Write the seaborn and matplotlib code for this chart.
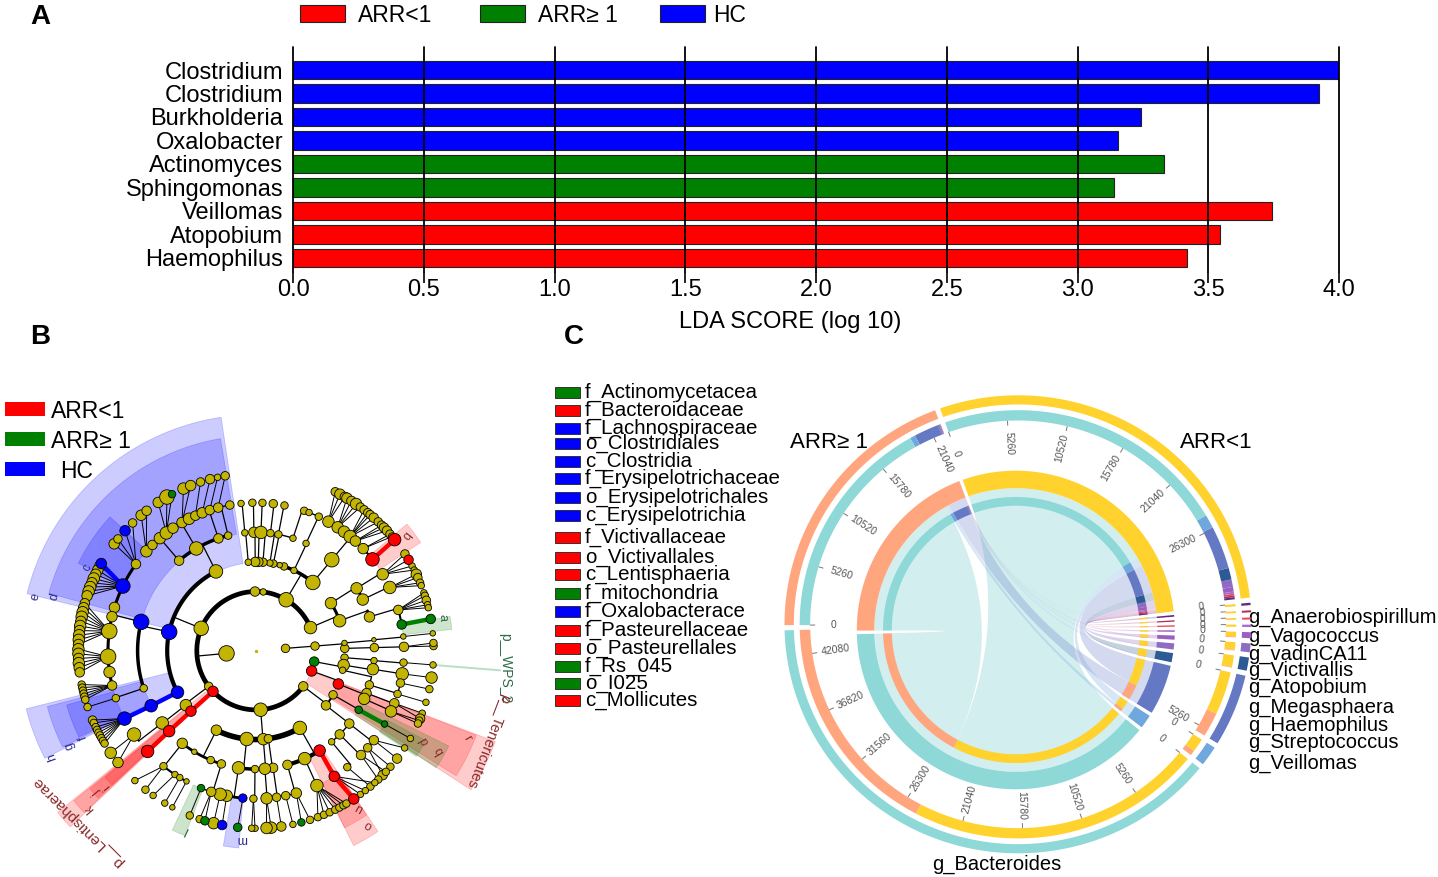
import numpy as np
import pandas as pd
import matplotlib
matplotlib.use('Agg')
import matplotlib.pyplot as plt
from matplotlib.patches import Rectangle, Polygon
import seaborn as sns

# ---------- panel A data ----------
lda_taxa = ['Clostridium', 'Clostridium', 'Burkholderia', 'Oxalobacter', 'Actinomyces',
            'Sphingomonas', 'Veillomas', 'Atopobium', 'Haemophilus']
lda_score = [4.0, 3.925, 3.243, 3.155, 3.33, 3.14, 3.745, 3.545, 3.42]
lda_group = ['HC', 'HC', 'HC', 'HC', 'ARR>=1', 'ARR>=1', 'ARR<1', 'ARR<1', 'ARR<1']
group_colors = {'ARR<1': '#ff0000', 'ARR>=1': '#008000', 'HC': '#0000ff', 'none': '#c2b400'}

# ---------- panel B data: (parent angle, arc width, child angles, child diameters) ----------
clades_1 = [(None, 0, [185.2, 4.5], [14, 7])]
clades_2 = [(185.2, 3.4, [23, 59.4, 83, 91, 157.8, 217, 223.4, 274.5, 323], [11, 13, 5, 8, 13, 7, 9, 12, 8]),
            (4.5, 1, [4.5], 7),
            (None, 0, [349.4, 340], [8, 9])]
clades_3 = [(157.8, 3, [116.8, 167.8, 207.9], [12, 14, 11]),
            (59.4, 2.6, [50.2, 64.7, 71.6, 74.5, 78.7, 81, 85.5, 88.5, 90.5, 95], [13, 5, 6, 4, 6, 5, 7, 8, 8, 5]),
            (23, 2.2, [19.7, 32.4], [11, 10]),
            (4.5, 1, [1.5, 5], [7, 4]),
            (349.4, 1, [355.5, 350.7, 347.3], [6, 10, 5]),
            (340, 1, [338], 9),
            (323, 1.5, [330.2, 322], [7, 8]),
            (274.5, 4, [243.5, 264, 274.7, 278, 299.6], [9, 12, 10, 7, 12]),
            (223.4, 1, [222.9], 9),
            (217, 1, [217.8], 10)]
clades_4 = [(116.8, 2.5, [103.6, 108.5, 120.3, 130.5], [6, 8, 12, 8]),
            (167.8, 2.5, [165.9, 198.5], [14, 6]),
            (207.9, 1, [207.7], 11),
            (222.9, 1, [222.8], 10),
            (217.8, 1, [217.6], 11),
            (50.2, 1, [50.2], 13),
            (95, 1, [95.4], 5), (90.5, 1, [91], 9), (88.5, 1, [87.6], 11), (85.5, 1, [83], 6),
            (81, 1, [79.1], 6), (78.7, 1, [71.8], 5), (64.7, 1, [65], 5),
            (19.7, 2, [16.6], 9),
            (32.4, 2, [31.8, 25.6], 10),
            (1.5, 1, [1.5], 7), (5, 1, [5.3], 3),
            (355.5, 1, [355.2], 5), (350.7, 1, [351], 10), (347.3, 1, [343.2], 7),
            (338, 1, [339, 336], [8, 10]),
            (330.2, 1, [330.1], 6),
            (322, 1, [322, 315, 309.7], [8, 8, 5]),
            (299.6, 3, [302.5, 294.3, 285.4], [10, 11, 8]),
            (278, 1, [278.3], 8), (274.7, 1, [274.3], 10),
            (264, 2.5, [269.5, 261.5], [6, 11]),
            (243.5, 2, [231.5, 238.6, 247.5, 253], [9, 4, 6, 7])]
clades_5 = [(130.5, 1.5, [137.8, 134.4, 130.5, 127.3, 124.1], [9, 7, 9, 10, 8]),
            (120.3, 1.5, [120, 116.9, 114.2, 111.3], [8, 9, 7, 8]),
            (108.5, 1.2, [108.2, 104.8], [7, 7]),
            (103.6, 1, [100.2], 6),
            (165.9, 2.2, [144.2, 154.1, 163, 166.7, 172.4, 182.3, 188.3, 193.6], [7, 12, 8, 8, 13, 13, 9, 7]),
            (198.5, 1, [198.7], 5),
            (207.7, 1, [207.3], 11), (222.8, 1, [222.9], 10), (217.6, 1, [214.5], 11),
            (50.2, 1.5, [60.7, 56.5, 53.5, 50.5, 47.8, 43.6, 38.1], [9, 9, 9, 10, 8, 8, 11]),
            (31.8, 1, [31.1], 9), (25.6, 1, [25.3], 10),
            (16.6, 1.5, [16, 10.2], [7, 7]),
            (1.5, 1, [1.5], 7), (5.3, 1, [5.5], 3),
            (95.4, 1, [95.8], 4), (91, 1, [91.4], 5), (87.6, 1, [87.5], 5), (83, 1, [83.3], 6),
            (79.1, 1, [78.9], 5), (71.8, 1, [71], 5), (65, 1, [64.9, 69], [5, 4]),
            (355.2, 1, [355.4], 5), (351, 1, [351], 10), (343.2, 1, [347.4, 343], [6, 5]),
            (339, 1, [339.2], 7), (336, 1, [335.8], 9), (330.1, 1, [330.3], 4),
            (322, 1, [322.8, 319], [7, 6]), (315, 1, [315.2], 7), (309.7, 1, [308.1], 5),
            (302.5, 1, [301.9], 8), (294.3, 1, [294.3], 10), (285.4, 1, [285.8, 281.6], [8, 6]),
            (278.3, 1, [278], 6), (274.3, 1, [274.1], 9), (269.5, 1, [269], 5),
            (261.5, 2, [264.9, 258.6, 256, 252.4], [6, 9, 10, 7]),
            (253, 1, [248.2], 5),
            (231.5, 1.5, [231.3, 236.8, 239, 242], [5, 4, 4, 3])]
clades_6 = [(137.8, 0, [130.3, 128], [8, 7]), (127.3, 0, [123.4, 120.1, 118.2], [8, 12, 5]),
            (120, 0, [114.1, 111.6], [9, 8]), (114.2, 0, [108.2], 6), (111.3, 0, [105], 7),
            (108.2, 0, [102.5], 4), (104.8, 0, [100], 6),
            (144.2, 0, [143, 141, 137.5, 134], [8, 6, 8, 6]),
            (154.1, 0, [150.6, 151.5, 153, 154.5, 156, 157.5, 159, 160.5, 162], [8, 8, 8, 8, 9, 8, 9, 9, 8]),
            (172.4, 0, [164.5, 166, 167.5, 169, 170.5, 172, 173.5, 175, 176.5, 178], [7, 8, 9, 9, 8, 9, 8, 9, 9, 8]),
            (182.3, 0, [179.5, 181, 182.5, 184, 185.5, 187], [9, 9, 8, 9, 8, 7]),
            (193.6, 0, [191, 192, 193, 194, 195, 196], 5),
            (198.7, 0, [198.5], 5),
            (207.3, 0, [203, 204, 205.5, 206.5, 207.5, 208.5, 209.5, 210.5, 211.5], [6, 5, 5, 5, 5, 5, 5, 5, 5]),
            (214.5, 0, [215.1, 219], [9, 8]),
            (60.7, 0, [63.5, 61.8, 60], [6, 8, 7]), (56.5, 0, [59.2, 57.5, 55.7, 54], [8, 7, 9, 6]),
            (50.5, 0, [52.5, 51, 50, 48.5, 46.5], [6, 6, 6, 7, 6]),
            (47.8, 0, [45, 43.9, 42.5], [6, 7, 7]), (43.6, 0, [41, 40], [6, 5]), (38.1, 0, [38.7], 10),
            (31.1, 0, [33, 30.8, 28.5, 27], [6, 7, 4, 4]), (25.3, 0, [25.5, 24.3, 22.5, 21.5], [8, 6, 5, 4]),
            (16, 0, [19, 18, 16.5, 15, 14], [4, 5, 6, 4, 4]), (10.2, 0, [10.3], 7),
            (1.5, 0, [1.5, 2.5], 5), (5.5, 0, [5.6], 3),
            (355.4, 0, [355.4], 4), (351, 0, [351.3], 9), (347.4, 0, [347.5], 5), (343, 0, [343.1], 4),
            (339.2, 0, [339.4, 337.5], [4, 7]), (335.8, 0, [336.8, 335.8], [5, 5]),
            (330.3, 0, [330.4], 4), (322.8, 0, [322.6, 326.8], [7, 4]), (319, 0, [319.2, 315.5], [5, 7]),
            (315.2, 0, [317, 313.5], [5, 5]), (308.1, 0, [310.1], 5),
            (301.9, 0, [303.4, 306, 308, 312], [8, 4, 4, 4]),
            (294.3, 0, [290.4, 292.5, 294.5, 296.5, 298, 299.5, 300.6], 5),
            (285.8, 0, [284.8, 287.7], [5, 5]), (281.6, 0, [282], 4), (278, 0, [278.2], 7),
            (274.1, 0, [274.9, 273.4], 9), (269, 0, [269.7, 268.6], 4), (264.9, 0, [264.1], 6),
            (258.6, 0, [259], 7), (256, 0, [256.2], 9), (252.4, 0, [253.3, 251.5], [6, 5]),
            (248.2, 0, [248.1], 5), (231.3, 0, [227, 231.5], [4, 5]), (236.8, 0, [234.6], 4),
            (239, 0, [239.1], 4), (242, 0, [241.9], 3)]
all_clades = [clades_1, clades_2, clades_3, clades_4, clades_5, clades_6]

blue_nodes = [(3, 167.8), (3, 207.9), (4, 165.9), (4, 207.7), (5, 154.1), (5, 207.3), (5, 264.9),
              (6, 150.6), (6, 137.5), (6, 259)]
red_nodes = [(2, 340), (2, 223.4), (3, 338), (3, 222.9), (4, 222.8), (4, 302.5), (5, 222.9), (5, 301.9),
             (5, 38.1), (6, 303.4), (6, 38.7), (6, 30.8)]
green_nodes = [(2, 349.4), (4, 330.1), (5, 330.3), (5, 10.2), (6, 10.3), (6, 118.2), (6, 284.8),
               (6, 264.1), (6, 253.3), (5, 248.2)]
plain_links = [167.8, 340]

# highlighted sectors: start angle, end angle, inner radius, outer radius
wedges_blue = [(98.5, 166, 88, 236), (99.5, 164.5, 118, 215), (137.5, 153.8, 148, 198),
               (194.2, 207, 90, 237), (195, 206.5, 118, 216), (196, 206, 148, 197), (260.5, 265, 148, 198)]
wedges_red = [(219.2, 223.5, 59, 256), (219.5, 223.3, 88, 236), (219.8, 223, 118, 216), (220, 223, 148, 197),
              (327.1, 339.2, 59, 256), (328, 339, 88, 236), (304, 296.6, 118, 218), (304, 296.6, 148, 198),
              (33.3, 40, 148, 197)]
wedges_green = [(327, 333.7, 118, 215), (326.6, 332.1, 148, 192), (6.2, 10, 148, 197), (245, 249, 148, 198)]

small_labels = ['a', 'b', 'c', 'd', 'e', 'f', 'g', 'h', 'i', 'j', 'k', 'l', 'm', 'n', 'o', 'p', 'q', 'r']
# ---------- legends and names ----------
biomarkers = ['f_Actinomycetacea', 'f_Bacteroidaceae', 'f_Lachnospiraceae', 'o_Clostridiales', 'c_Clostridia',
              'f_Erysipelotrichaceae', 'o_Erysipelotrichales', 'c_Erysipelotrichia', 'f_Victivallaceae',
              'o_Victivallales', 'c_Lentisphaeria', 'f_mitochondria', 'f_Oxalobacterace', 'f_Pasteurellaceae',
              'o_Pasteurellales', 'f_Rs_045', 'o_I025', 'c_Mollicutes']
biomarker_group = ['ARR>=1', 'ARR<1', 'HC', 'HC', 'HC', 'HC', 'HC', 'HC', 'ARR<1', 'ARR<1', 'ARR<1', 'ARR>=1',
                   'HC', 'ARR<1', 'ARR<1', 'ARR>=1', 'ARR>=1', 'ARR<1']

# ---------- panel C data: sequence counts, genus by group ----------
genera = ['g_Anaerobiospirillum', 'g_Vagococcus', 'g_vadinCA11', 'g_Victivallis', 'g_Atopobium',
          'g_Megasphaera', 'g_Haemophilus', 'g_Streptococcus', 'g_Veillomas', 'g_Bacteroides']
reads_arr_lt = [180, 150, 150, 180, 400, 650, 1000, 3700, 1150, 25000]
reads_arr_ge = [10, 10, 10, 10, 80, 60, 60, 2100, 450, 19200]
genus_colors = ['#5b2c83', '#b0305a', '#e8445a', '#a66fc9', '#9b5fc0', '#8f6cc4', '#2b5a94', '#6478c4',
                '#6fa8dc', '#8ed8d8']
yellow, peach = '#ffd22e', '#ffa67e'
tick_step = 5260
last_tick = {'ARR<1': 26300}

sns.set_theme(style='white')
plt.rcParams['font.family'] = ['Liberation Sans', 'DejaVu Sans']

fig = plt.figure(figsize=(14.38, 8.77), dpi=100)

# whole-figure axes in picture pixels, for the two circular panels
ax = fig.add_axes([0, 0, 1, 1])
ax.set_xlim(0, 1438)
ax.set_ylim(877, 0)
ax.axis('off')

# ---------- panel A ----------
ax_a = fig.add_axes([293 / 1438, 1 - 272 / 877, 1046 / 1438, 225 / 877])
lda = pd.DataFrame({'pos': [str(i) for i in range(len(lda_taxa))], 'score': lda_score, 'group': lda_group})
sns.barplot(data=lda, x='score', y='pos', hue='group', palette=group_colors, dodge=False, legend=False,
            width=0.8, saturation=1, edgecolor='#222222', linewidth=0.8, ax=ax_a)
ax_a.set_xlim(0, 4)
ax_a.set_ylim(8.6, -0.98)
ax_a.set_xticks(np.arange(0, 4.5, 0.5))
ax_a.set_xticklabels([f'{v:.1f}' for v in np.arange(0, 4.5, 0.5)], fontsize=17, color='black')
ax_a.set_yticks(range(len(lda_taxa)))
ax_a.set_yticklabels(lda_taxa, fontsize=17, color='black')
ax_a.tick_params(axis='y', length=0, pad=7)
ax_a.tick_params(axis='x', length=8, width=1.2, color='black', pad=-3, bottom=True)
ax_a.grid(axis='x', color='black', linewidth=1.3)
for line in ax_a.get_xgridlines():
    line.set_clip_on(False)
ax_a.set_axisbelow(False)
ax_a.set_xlabel('')
ax_a.set_ylabel('')
for sp in ax_a.spines.values():
    sp.set_visible(False)
ax_a.patch.set_alpha(0)

# top legend
for x0, name, txt, tx in [(300, 'ARR<1', 'ARR<1', 358), (480, 'ARR>=1', 'ARR≥ 1', 538), (660, 'HC', 'HC', 713)]:
    ax.add_patch(Rectangle((x0, 5), 45, 17, facecolor=group_colors[name], edgecolor='#222222', linewidth=0.8))
    ax.text(tx, 15, txt, fontsize=16.5, va='center', color='black')

for txt, x, y in [('A', 40, 17), ('B', 40, 337), ('C', 574, 337)]:
    ax.text(x, y, txt, fontsize=20, fontweight='bold', ha='center', va='center', color='black')
ax.text(790, 322, 'LDA SCORE (log 10)', fontsize=17, ha='center', va='center', color='black')

# ---------- panel B ----------
cx_b, cy_b, ring = 256, 650.7, 29.6


def clad_xy(angle, radius):
    a = np.deg2rad(angle)
    return cx_b + radius * np.cos(a), cy_b - radius * np.sin(a)


for wedges, name in [(wedges_blue, 'HC'), (wedges_red, 'ARR<1'), (wedges_green, 'ARR>=1')]:
    for a0, a1, r0, r1 in wedges:
        th = np.linspace(a0, a1, 40)
        xo, yo = clad_xy(th, r1)
        xi, yi = clad_xy(th[::-1], r0)
        ax.add_patch(Polygon(np.c_[np.r_[xo, xi], np.r_[yo, yi]], closed=True, facecolor=group_colors[name],
                             edgecolor=group_colors[name], alpha=0.2, linewidth=0.6, zorder=1))

marker_of = {}
for keys, name in [(blue_nodes, 'HC'), (red_nodes, 'ARR<1'), (green_nodes, 'ARR>=1')]:
    for key in keys:
        marker_of[key] = name

rows = []
for lev0, level_clades in enumerate(all_clades):
    level = lev0 + 1
    for parent, arc_lw, angles, diams in level_clades:
        diams = np.broadcast_to(diams, (len(angles),))
        if parent is not None and level < 6:
            xs, ys = clad_xy(np.array([parent, parent]), np.array([level - 1, level]) * ring)
            ax.plot(xs, ys, color='black', lw=0.9, zorder=2)
            lo, hi = min(angles + [parent]), max(angles + [parent])
            if hi > lo:
                xs, ys = clad_xy(np.linspace(lo, hi, 80), level * ring)
                ax.plot(xs, ys, color='black', lw=arc_lw, zorder=2, solid_capstyle='round')
        for ang, d in zip(angles, diams):
            group = marker_of.get((level, ang), 'none')
            px, py = clad_xy(ang, level * ring)
            grow = 2.5 if level >= 5 else 1.5
            rows.append({'x': px, 'y': py, 'area': (0.72 * (d + grow)) ** 2, 'group': group})
            if parent is None:
                continue
            qx, qy = clad_xy(parent, (level - 1) * ring)
            same = group != 'none' and marker_of.get((level - 1, parent)) == group and parent not in plain_links
            if same and abs(parent - ang) < 6:
                ax.plot([qx, px], [qy, py], color=group_colors[group], lw=3.2, zorder=3)
            elif level == 6:
                ax.plot([qx, px], [qy, py], color='black', lw=0.7, zorder=2)

nodes = pd.DataFrame(rows)
nodes['rank'] = (nodes['group'] != 'none').astype(int)
nodes = nodes.sort_values('rank', kind='stable')
sns.scatterplot(data=nodes, x='x', y='y', hue='group', palette=group_colors, size='area',
                sizes=(nodes['area'].min(), nodes['area'].max()),
                size_norm=(nodes['area'].min(), nodes['area'].max()),
                edgecolor='black', linewidth=0.6, alpha=1, legend=False, zorder=5, ax=ax)
ax.set_xlabel('')
ax.set_ylabel('')
ax.set_xlim(0, 1438)
ax.set_ylim(877, 0)
ax.scatter([cx_b], [cy_b], s=2, color='#c2b400', zorder=5)

# thin line of the p__WPS_2 label
xs, ys = clad_xy(np.array([355.4, 355.4]), np.array([178, 245]))
ax.plot(xs, ys, color='#b8dfc4', lw=1.4, zorder=1)

dark_red, dark_green, dark_blue = '#8a2a2a', '#2f6b45', '#2a2a90'
ax.text(505, 668, 'p__WPS_2', rotation=-90, color=dark_green, fontsize=10, ha='center', va='center')
ax.text(488, 741, 'p__Tenericutes', rotation=-111, color=dark_red, fontsize=10.5, ha='center', va='center')
ax.text(78, 822, 'p__Lentisphaerae', rotation=135, color=dark_red, fontsize=11, ha='center', va='center')
label_pos = [(442, 618, dark_green, -90), (405, 535, dark_red, -128), (87, 568, dark_blue, 62), (55, 597, dark_blue, 75),
             (35, 597, dark_blue, 75), (83, 737, dark_blue, 110), (70, 746, dark_blue, 110), (52, 757, dark_blue, 110),
             (107, 787, dark_red, 130), (97, 793, dark_red, 130), (90, 808, dark_red, 130), (187, 830, dark_green, 155),
             (242, 839, dark_blue, 180), (358, 810, dark_red, -30), (367, 827, dark_red, -30), (422, 742, dark_red, -60),
             (437, 752, dark_red, -60), (467, 738, dark_red, -60)]
for name, (x, y, col, rot) in zip(small_labels, label_pos):
    ax.text(x, y, name, color=col, rotation=rot, fontsize=9, ha='center', va='center', zorder=6)

# side legends
for y0, name, txt, tx in [(402, 'ARR<1', 'ARR<1', 51), (432, 'ARR>=1', 'ARR≥ 1', 51), (462, 'HC', 'HC', 60)]:
    ax.add_patch(Rectangle((5, y0), 40, 14, facecolor=group_colors[name], edgecolor='none'))
    ax.text(tx, y0 + 9, txt, fontsize=16.5, va='center', color='black')

legend_y = [392, 410, 428, 443, 461, 478, 497, 515, 537, 557, 574, 593, 611, 630, 648, 666, 683, 700]
for name, grp, y in zip(biomarkers, biomarker_group, legend_y):
    ax.add_patch(Rectangle((555, y - 5), 25, 11, facecolor=group_colors[grp], edgecolor='#222222', linewidth=0.6))
    ax.text(585, y + 0.5, name, fontsize=14.8, va='center', color='black')

# ---------- panel C ----------
sector_names = ['ARR<1'] + genera + ['ARR>=1']
sector_totals = [sum(reads_arr_lt)] + [a + b for a, b in zip(reads_arr_lt, reads_arr_ge)] + [sum(reads_arr_ge)]
gap = 1.3
scale = (360 - gap * len(sector_totals)) / sum(sector_totals)
start = {}
pos = 109.5
for name, total in zip(sector_names, sector_totals):
    start[name] = pos
    pos -= total * scale + gap


def ell(c, f, deg):
    a = np.deg2rad(deg)
    return c[0] + c[2] * f * np.cos(a), c[1] - c[3] * f * np.sin(a)


def band(c, f0, f1, a0, a1, color, zorder=4):
    th = np.linspace(a0, a1, max(int(abs(a1 - a0)) * 2, 4))
    xo, yo = ell(c, f1, th)
    xi, yi = ell(c, f0, th[::-1])
    ax.add_patch(Polygon(np.c_[np.r_[xo, xi], np.r_[yo, yi]], closed=True, facecolor=color, edgecolor='none',
                         zorder=zorder))


def ribbon(c, f, a, b, color, alpha, zorder):
    # a and b are (start, end) angles on the ring; edges are quadratic curves through the centre
    ta = np.linspace(a[0], a[1], 40)
    tb = np.linspace(b[0], b[1], 40)
    xa, ya = ell(c, f, ta)
    xb, yb = ell(c, f, tb)
    t = np.linspace(0, 1, 50)
    x1 = (1 - t) ** 2 * xa[-1] + 2 * t * (1 - t) * c[0] + t ** 2 * xb[0]
    y1 = (1 - t) ** 2 * ya[-1] + 2 * t * (1 - t) * c[1] + t ** 2 * yb[0]
    x2 = (1 - t) ** 2 * xb[-1] + 2 * t * (1 - t) * c[0] + t ** 2 * xa[0]
    y2 = (1 - t) ** 2 * yb[-1] + 2 * t * (1 - t) * c[1] + t ** 2 * ya[0]
    pts = np.c_[np.r_[xa, x1, xb, x2], np.r_[ya, y1, yb, y2]]
    ax.add_patch(Polygon(pts, closed=True, facecolor=color, edgecolor='none', alpha=alpha, zorder=zorder))


# segments: each genus is split into its two groups, each group into its genera
genus_seg = {}
group_seg = {'ARR<1': {}, 'ARR>=1': {}}
for g, lt, ge in zip(genera, reads_arr_lt, reads_arr_ge):
    s = start[g]
    genus_seg[g] = {'ARR<1': (s, s - lt * scale), 'ARR>=1': (s - lt * scale, s - (lt + ge) * scale)}
for grp, vals in [('ARR<1', reads_arr_lt), ('ARR>=1', reads_arr_ge)]:
    s = start[grp]
    for g, v, in zip(genera[::-1], vals[::-1]):
        group_seg[grp][g] = (s, s - v * scale)
        s -= v * scale

outer = (1018, 624.3, 233.5, 229)
inner = (1015.8, 630, 159, 159.3)
sector_color = {'ARR<1': yellow, 'ARR>=1': peach}
sector_color.update(dict(zip(genera, genus_colors)))
group_color_c = {'ARR<1': yellow, 'ARR>=1': peach}

for c, (f0, f1), (f2, f3) in [(outer, (0.96, 1.0), (0.89, 0.935)), (inner, (0.89, 1.0), (0.78, 0.835))]:
    for name, total in zip(sector_names, sector_totals):
        band(c, f0, f1, start[name], start[name] - total * scale, sector_color[name])
    for g in genera:
        for grp in group_seg:
            band(c, f2, f3, *genus_seg[g][grp], group_color_c[grp])
            band(c, f2, f3, *group_seg[grp][g], sector_color[g])

for g, col in zip(genera, genus_colors):
    for grp in group_seg:
        is_main = g == 'g_Bacteroides'
        ribbon(inner, 0.89, group_seg[grp][g], genus_seg[g][grp], '#d2eeee' if is_main else col,
               1 if is_main else 0.28, 2 if is_main else 3)

# count ticks on every sector
for name, total in zip(sector_names, sector_totals):
    for v in np.arange(0, total, tick_step):
        if v > last_tick.get(name, total):
            continue
        ang = start[name] - v * scale
        xs, ys = ell(outer, np.array([0.87, 0.89]), np.array([ang, ang]))
        ax.plot(xs, ys, color='#777777', lw=0.7, zorder=3)
        tx, ty = ell(outer, 0.79, ang)
        vis = (ang + 90) % 360 - 90
        rot = vis if vis <= 90 else vis - 180
        ax.text(tx, ty, str(int(v)), fontsize=7.5, color='#555555', rotation=rot, ha='center', va='center',
                rotation_mode='anchor', zorder=4)

ax.text(829, 442, 'ARR≥ 1', fontsize=16, ha='center', va='center', color='black')
ax.text(1216, 442, 'ARR<1', fontsize=16, ha='center', va='center', color='black')
genus_label_y = [616, 636, 653, 669, 686, 706, 724, 742, 762]
for name, y in zip(genera[:9], genus_label_y):
    ax.text(1248, y + 1, name, fontsize=14.5, va='center', color='black')
ax.text(997, 864, genera[9], fontsize=14.5, ha='center', va='center', color='black')

fig.savefig('out.png', dpi=100)
